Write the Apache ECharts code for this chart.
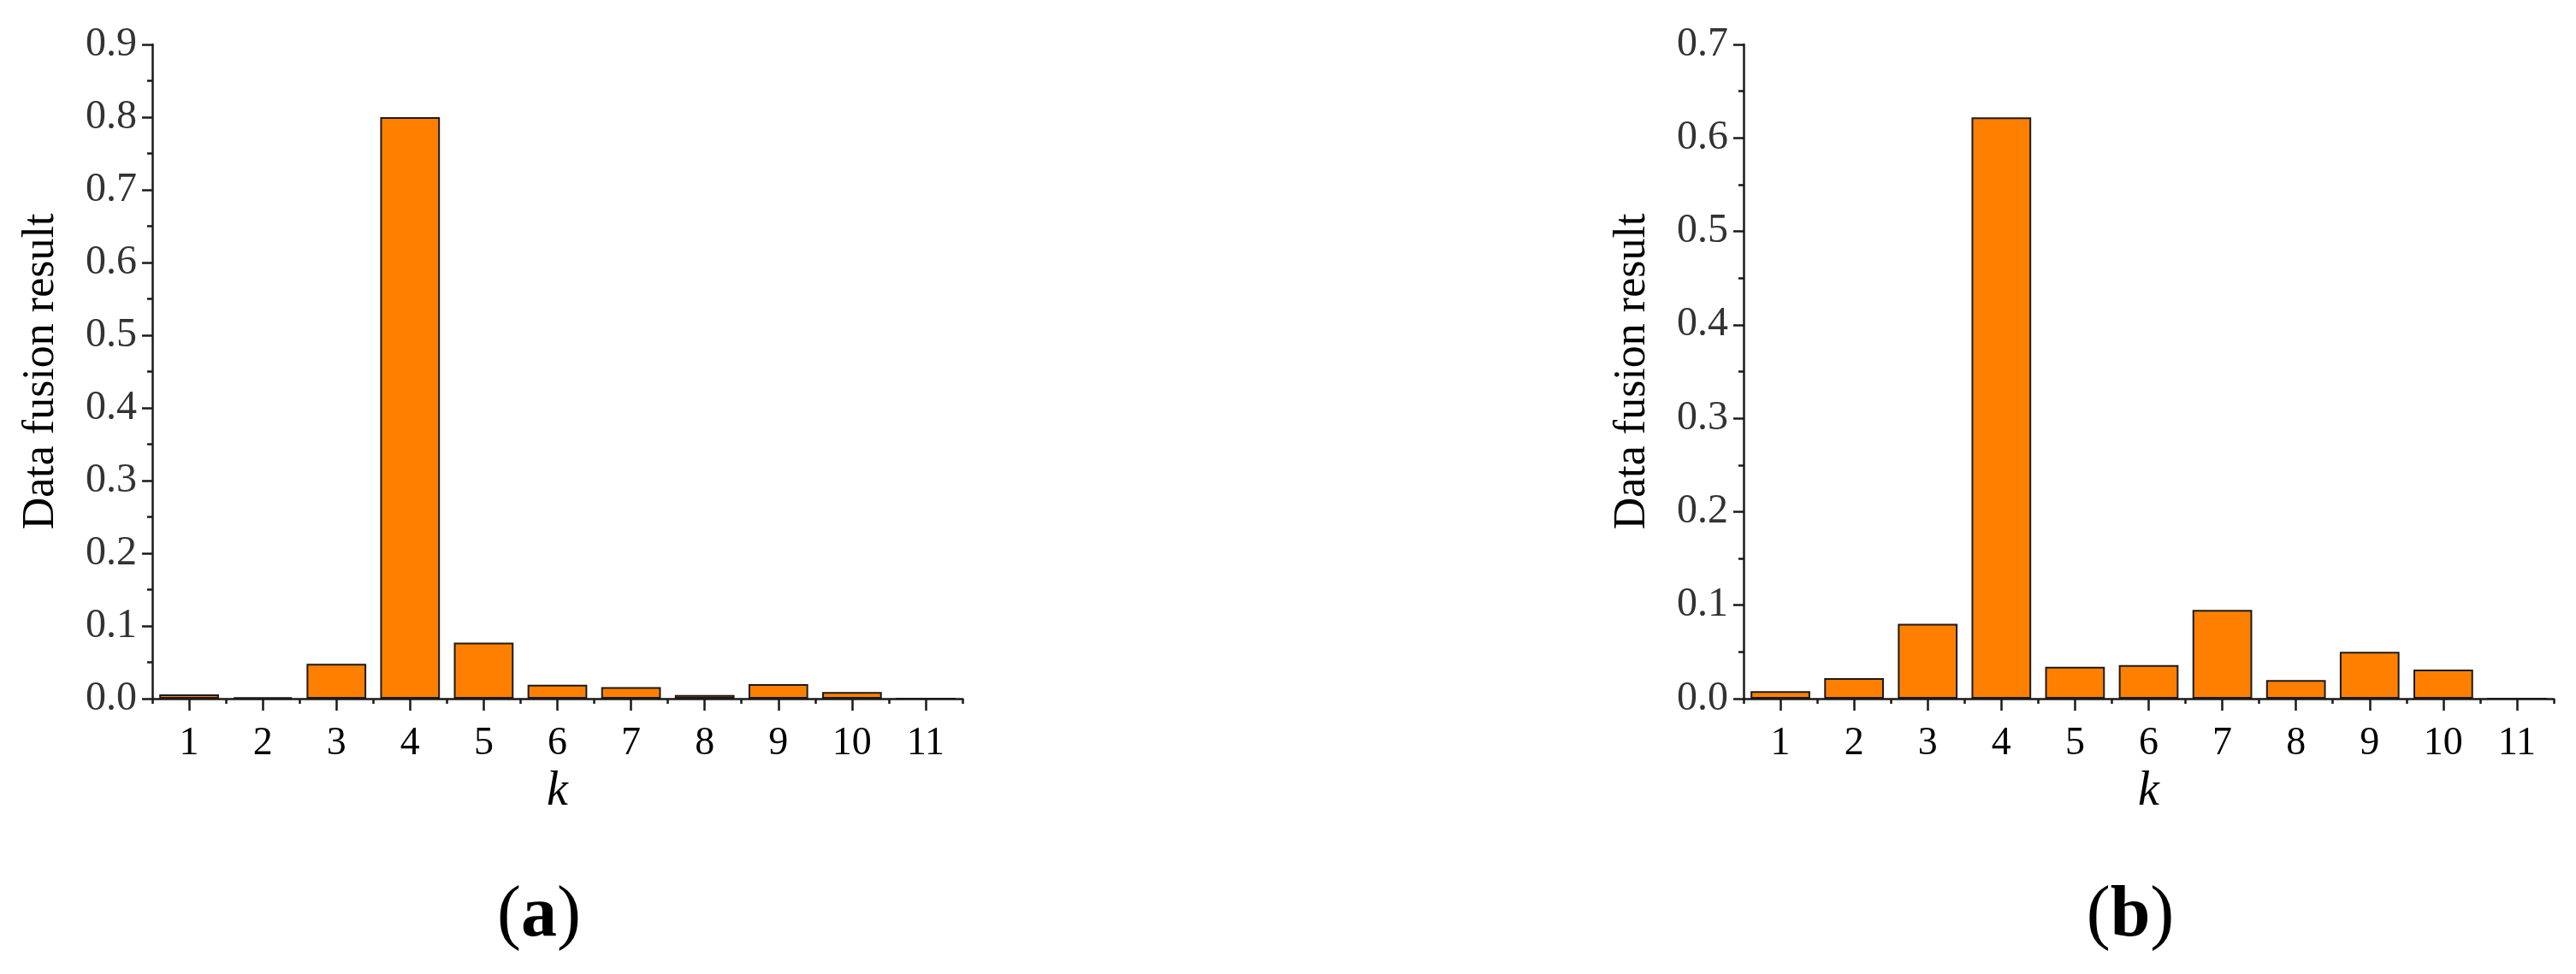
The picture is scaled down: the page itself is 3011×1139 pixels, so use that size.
<!DOCTYPE html>
<html>
<head>
<meta charset="utf-8">
<title>Data fusion result</title>
<script src="https://cdn.jsdelivr.net/npm/echarts@6/dist/echarts.min.js"></script>
<style>
	html, body { margin: 0; padding: 0; background: #fff; }
	#main { width: 3011px; height: 1139px; }
</style>
</head>
<body>
<div id="main"></div>
<script>
// 横轴类别 k
var categories = ['1', '2', '3', '4', '5', '6', '7', '8', '9', '10', '11'];
// (a) 图的数据
var valuesA = [0.006, 0.002, 0.048, 0.800, 0.077, 0.019, 0.016, 0.005, 0.020, 0.009, 0];
// (b) 图的数据
var valuesB = [0.008, 0.022, 0.080, 0.622, 0.034, 0.036, 0.095, 0.020, 0.050, 0.031, 0];
// 纵轴范围
var yMaxA = 0.9;
var yMaxB = 0.7;
var panelLabels = ['a', 'b'];

var serif = '"Liberation Serif", "Times New Roman", serif';
var axisColor = '#1a1a1a';

function makeXAxis(gridIndex, minor) {
	return {
		type: 'category',
		gridIndex: gridIndex,
		position: 'bottom',
		data: categories,
		boundaryGap: true,
		name: minor ? '' : 'k',
		nameLocation: 'middle',
		nameGap: 74,
		nameTextStyle: { fontFamily: serif, fontStyle: 'italic', fontSize: 56, color: '#000' },
		axisLine: { show: !minor, lineStyle: { color: axisColor, width: 2.5 } },
		axisTick: {
			show: true,
			alignWithLabel: !minor,//主刻度对准标签,副刻度在柱子边界
			length: minor ? 6 : 14,
			lineStyle: { color: axisColor, width: 2.5 }
		},
		axisLabel: {
			show: !minor,
			margin: 30,
			fontFamily: serif,
			fontSize: 46,
			color: '#000'
		},
		splitLine: { show: false }
	};
}

function makeYAxis(gridIndex, max) {
	return {
		type: 'value',
		gridIndex: gridIndex,
		min: 0,
		max: max,
		interval: 0.1,
		name: 'Data fusion result',
		nameLocation: 'middle',
		nameGap: 104,
		nameTextStyle: { fontFamily: serif, fontSize: 52, color: '#000' },
		axisLine: { show: true, lineStyle: { color: axisColor, width: 2.5 } },
		axisTick: { show: true, length: 12, lineStyle: { color: axisColor, width: 2.5 } },
		minorTick: { show: true, splitNumber: 2, length: 6, lineStyle: { color: axisColor, width: 2.5 } },
		axisLabel: {
			margin: 18,
			fontFamily: serif,
			fontSize: 48,
			color: '#333',
			formatter: function (v) { return v.toFixed(1); }
		},
		splitLine: { show: false }
	};
}

function makeBar(axisIndex, data) {
	return {
		type: 'bar',
		xAxisIndex: axisIndex * 2,
		yAxisIndex: axisIndex,
		data: data,
		barCategoryGap: '19%',
		itemStyle: { color: '#ff8000', borderColor: '#1a1a1a', borderWidth: 2 },
		silent: true
	};
}

function panelText(x, letter) {
	return {
		type: 'text',
		x: x,
		y: 1072,
		style: {
			text: '{p|(}{b|' + letter + '}{p|)}',
			align: 'center',
			verticalAlign: 'middle',
			rich: {
				p: { fontFamily: serif, fontSize: 84, fill: '#000' },
				b: { fontFamily: serif, fontSize: 84, fontWeight: 'bold', fill: '#000' }
			}
		}
	};
}

var myChart = echarts.init(document.getElementById('main'));
var option = {
	animation: false,
	backgroundColor: '#fff',
	grid: [
		{ left: 178, right: 1886, top: 52, bottom: 322 },
		{ left: 2038, right: 26, top: 52, bottom: 322 }
	],
	xAxis: [makeXAxis(0, false), makeXAxis(0, true), makeXAxis(1, false), makeXAxis(1, true)],
	yAxis: [makeYAxis(0, yMaxA), makeYAxis(1, yMaxB)],
	series: [makeBar(0, valuesA), makeBar(1, valuesB)],
	graphic: [panelText(630, panelLabels[0]), panelText(2490, panelLabels[1])]
};
myChart.setOption(option);
</script>
</body>
</html>
